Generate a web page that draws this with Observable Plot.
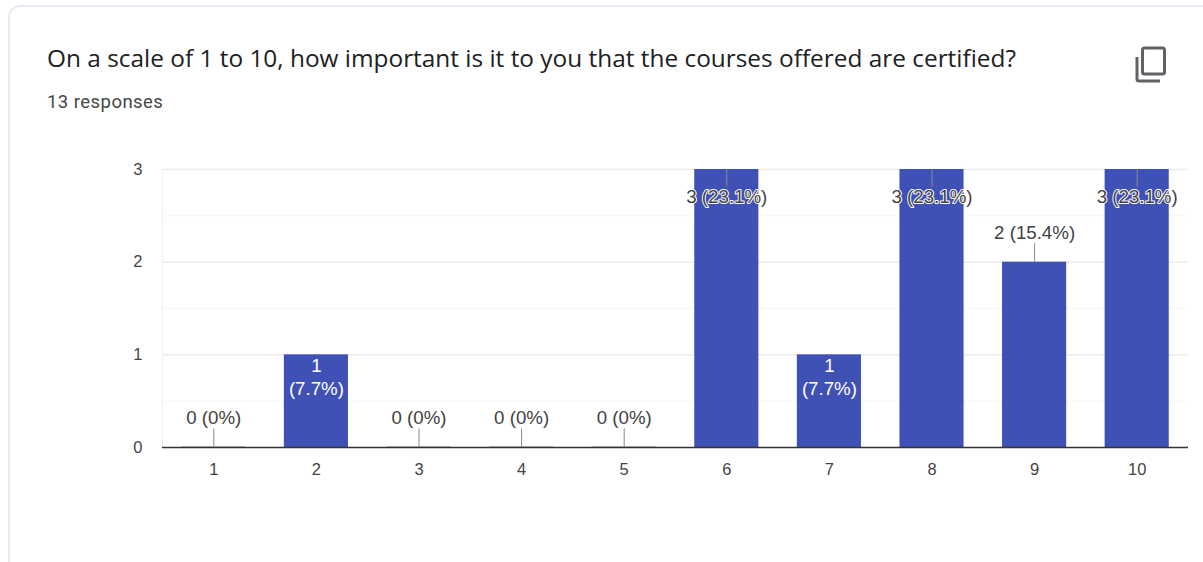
<!DOCTYPE html>
<html>
<head>
<meta charset="utf-8">
<script src="https://cdn.jsdelivr.net/npm/d3@7"></script>
<script src="https://cdn.jsdelivr.net/npm/@observablehq/plot@0.6"></script>
<style>
html,body{margin:0;padding:0;background:#fff;width:1203px;height:562px;overflow:hidden}
#card{position:absolute;left:8px;top:5px;width:1300px;height:600px;border:2px solid #e8eaf4;border-radius:12px;box-sizing:border-box;filter:blur(.5px)}
#title{position:absolute;left:47px;top:43px;font:24.4px "Open Sans",sans-serif;color:#202124;white-space:nowrap;line-height:30px}
#sub{position:absolute;left:47px;top:91px;font:18.5px Roboto,sans-serif;letter-spacing:.45px;color:#444746;white-space:nowrap;line-height:22px}
#icon{position:absolute;left:1134px;top:46px}
#chart{position:absolute;left:0;top:150px}
</style>
</head>
<body>
<div id="card"></div>
<div id="title">On a scale of 1 to 10, how important is it to you that the courses offered are certified?</div>
<div id="sub">13 responses</div>
<svg id="icon" width="34" height="38" viewBox="0 0 34 38" fill="none" stroke="#5f6368" stroke-width="3">
<rect x="8.5" y="2" width="22" height="26" rx="2"/>
<path d="M3 11V33a2 2 0 0 0 2 2H26"/>
</svg>
<div id="chart"></div>
<script>
const categories = ["1","2","3","4","5","6","7","8","9","10"];
const counts = [0,1,0,0,0,3,1,3,2,3];
const shares = ["0%","7.7%","0%","0%","0%","23.1%","7.7%","23.1%","15.4%","23.1%"];
const majorTicks = [0,1,2,3];
const minorTicks = [0.5,1.5,2.5];

const rows = categories.map((c,i)=>({c, v:counts[i], s:shares[i]}));
const outside = rows.filter(d=>d.v!==1);
const inside = rows.filter(d=>d.v===1);
const zeros = rows.filter(d=>d.v===0);
const font = '"Liberation Sans", Arial, sans-serif';
const fs = 18.7;
const label = d=>`${d.v} (${d.s})`;

const plot = Plot.plot({
  width:1203, height:340,
  marginLeft:162, marginRight:15, marginTop:19, marginBottom:43,
  style:{background:"transparent", fontFamily:font},
  x:{domain:categories, paddingInner:0.375, paddingOuter:0.1875, align:0.5, round:false},
  y:{domain:[0,3]},
  marks:[
    Plot.ruleY(minorTicks,{stroke:"#f6f6f6",strokeWidth:1}),
    Plot.ruleY(majorTicks.slice(1),{stroke:"#ececec",strokeWidth:1.5}),
    Plot.frame({anchor:"left",stroke:"#f0f0f0"}),
    Plot.barY(zeros,{x:"c",y1:0,y2:"v",fill:"#c4c4c4",insetTop:-1}),
    Plot.barY(rows,{x:"c",y:"v",fill:"#3f51b5"}),
    Plot.ruleY([0],{stroke:"#333",strokeWidth:1.5}),
    Plot.ruleX(outside,{x:"c",y1:"v",y2:d=>d.v===3?2.81:d.v+0.2,stroke:"#8a8a8a",strokeWidth:1}),
    Plot.text(outside,{x:"c",y:"v",text:label,filter:d=>d.v===3,
      fontSize:fs,fill:"#424242",stroke:"white",strokeWidth:2,dy:28}),
    Plot.text(outside,{x:"c",y:"v",text:label,filter:d=>d.v!==3,
      fontSize:fs,fill:"#424242",stroke:"white",strokeWidth:2,dy:-29}),
    Plot.text(inside,{x:"c",y:"v",text:d=>`${d.v}\n(${d.s})`,
      fontSize:fs,fill:"white",lineAnchor:"top",dy:1,lineHeight:1.24}),
    Plot.axisX({anchor:"bottom",tickSize:0,tickPadding:16,fontSize:16.5,color:"#444",label:null,fontFamily:font}),
    Plot.axisY(majorTicks,{anchor:"left",tickSize:0,tickPadding:20,fontSize:16.5,color:"#444",label:null,tickFormat:d=>d,fontFamily:font})
  ]
});
document.getElementById("chart").appendChild(plot);
</script>
</body>
</html>
